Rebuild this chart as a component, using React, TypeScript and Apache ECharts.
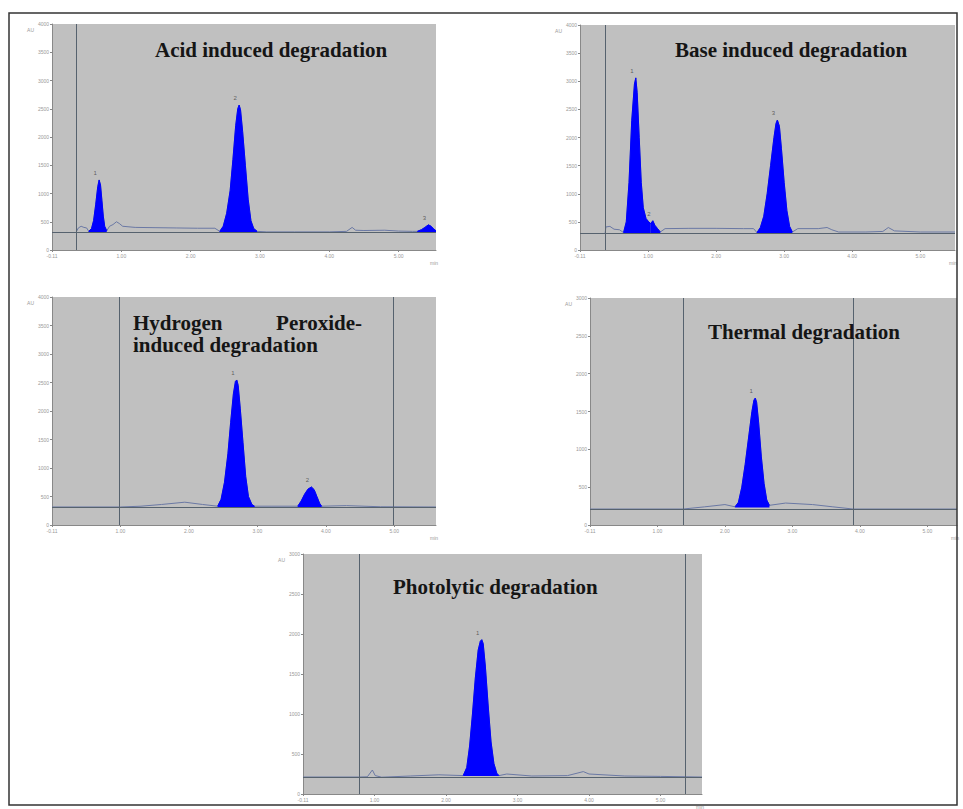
import React, { useEffect, useRef } from "react";
import * as echarts from "echarts";

// ---------- Data (time in min, signal in AU units) ----------
const acidTrace: number[][] = [
  [0.35, 320], [0.38, 390], [0.42, 420], [0.46, 400], [0.50, 390], [0.83, 420], [0.88, 450],
  [0.93, 500], [0.97, 470], [1.02, 420], [1.2, 400], [1.5, 395], [1.8, 390], [2.1, 385],
  [2.35, 385], [3.1, 320], [3.5, 320], [4.0, 320], [4.25, 330], [4.33, 400], [4.38, 350],
  [4.5, 345], [4.8, 350], [5.0, 335], [5.2, 330],
];
const acidPeak1: number[][] = [
  [0.53, 330], [0.57, 380], [0.60, 520], [0.63, 800], [0.66, 1120], [0.68, 1240], [0.70, 1150],
  [0.72, 880], [0.74, 600], [0.76, 420], [0.79, 340],
];
const acidPeak2: number[][] = [
  [2.42, 330], [2.47, 420], [2.52, 650], [2.57, 1050], [2.61, 1600], [2.65, 2200], [2.68, 2500],
  [2.70, 2566], [2.72, 2480], [2.75, 2100], [2.79, 1500], [2.83, 900], [2.87, 520], [2.91, 380],
  [2.96, 330],
];
const acidPeak3: number[][] = [
  [5.27, 330], [5.33, 360], [5.38, 400], [5.43, 445], [5.47, 420], [5.50, 380], [5.54, 340],
];

const baseTrace: number[][] = [
  [0.37, 300], [0.38, 410], [0.44, 420], [0.50, 370], [0.58, 360], [1.25, 380], [1.6, 385],
  [2.0, 385], [2.4, 380], [2.55, 380], [3.2, 380], [3.5, 380], [3.63, 400], [3.70, 360],
  [3.80, 320], [4.2, 320], [4.45, 330], [4.53, 400], [4.62, 340], [5.0, 320], [5.51, 320],
];
const basePeak1: number[][] = [
  [0.64, 310], [0.68, 500], [0.72, 1200], [0.76, 2300], [0.80, 2950], [0.82, 3060], [0.84, 2800],
  [0.87, 2000], [0.90, 1200], [0.93, 750], [0.97, 560], [1.01, 500], [1.04, 470],
];
const basePeak2: number[][] = [
  [1.04, 470], [1.07, 520], [1.10, 440], [1.14, 380], [1.18, 320],
];
const basePeak3: number[][] = [
  [2.60, 310], [2.65, 400], [2.70, 600], [2.75, 1000], [2.80, 1500], [2.85, 2000], [2.88, 2250],
  [2.90, 2311], [2.93, 2200], [2.96, 1800], [3.00, 1200], [3.04, 700], [3.08, 420], [3.12, 320],
];

const hydroTrace: number[][] = [
  [0, 316], [1.0, 316], [1.3, 330], [1.6, 360], [1.94, 400], [2.2, 360], [3.2, 330],
  [4.3, 340], [4.8, 320], [5.61, 316],
];
const hydroPeak1: number[][] = [
  [2.42, 330], [2.47, 450], [2.52, 750], [2.57, 1250], [2.61, 1800], [2.65, 2300], [2.68, 2520],
  [2.70, 2544], [2.72, 2450], [2.75, 2050], [2.79, 1450], [2.83, 850], [2.87, 500], [2.92, 360],
  [2.96, 330],
];
const hydroPeak2: number[][] = [
  [3.59, 330], [3.64, 420], [3.69, 540], [3.74, 630], [3.79, 667], [3.83, 620], [3.87, 500],
  [3.91, 380], [3.94, 330],
];

const thermTrace: number[][] = [
  [0, 211], [1.38, 211], [1.7, 240], [2.0, 270], [2.9, 290], [3.3, 270], [3.6, 240],
  [3.9, 211], [5.44, 211],
];
const thermPeak1: number[][] = [
  [2.15, 240], [2.20, 300], [2.25, 500], [2.30, 800], [2.35, 1150], [2.40, 1500], [2.43, 1650],
  [2.45, 1678], [2.47, 1620], [2.50, 1350], [2.54, 900], [2.58, 550], [2.62, 330], [2.66, 260],
];

const photoTrace: number[][] = [
  [0, 212], [0.78, 212], [0.90, 215], [0.97, 300], [1.01, 230], [1.1, 210], [1.5, 225],
  [1.9, 240], [2.85, 250], [3.2, 225], [3.7, 230], [3.92, 280], [4.0, 250], [4.5, 225],
  [5.0, 220], [5.58, 212],
];
const photoPeak1: number[][] = [
  [2.24, 230], [2.29, 330], [2.33, 600], [2.37, 1000], [2.41, 1450], [2.45, 1800], [2.48, 1910],
  [2.50, 1929], [2.52, 1880], [2.55, 1600], [2.59, 1100], [2.63, 650], [2.67, 380], [2.71, 260],
  [2.74, 230],
];

const titles = [
  "Acid induced degradation",
  "Base induced degradation",
  "Hydrogen",
  "Peroxide-",
  "induced degradation",
  "Thermal degradation",
  "Photolytic degradation",
];

const yMaxes = [4000, 4000, 4000, 3000, 3000];
const yIntervals = [500, 500, 500, 500, 500];
const xMaxes = [5.54, 5.51, 5.61, 5.44, 5.58];
const baselines = [320, 302, 316, 211, 212];
const fillBases = [320, 302, 316, 232, 225];
const verticalLines = [[0.35], [0.37], [0.98, 4.99], [1.38, 3.9], [0.78, 5.34]];
const peakNumbers = [["1", "2", "3"], ["1", "2", "3"], ["1", "2"], ["1"], ["1"]];

// ---------- Layout ----------
const grids = [
  { left: 52, top: 24, width: 384, height: 226 },
  { left: 580, top: 25, width: 375, height: 225 },
  { left: 52, top: 297, width: 384, height: 228 },
  { left: 590, top: 298, width: 367, height: 227 },
  { left: 303, top: 554, width: 399, height: 241 },
];

const panels = [
  { trace: acidTrace, peaks: [acidPeak1, acidPeak2, acidPeak3] },
  { trace: baseTrace, peaks: [basePeak1, basePeak2, basePeak3] },
  { trace: hydroTrace, peaks: [hydroPeak1, hydroPeak2] },
  { trace: thermTrace, peaks: [thermPeak1] },
  { trace: photoTrace, peaks: [photoPeak1] },
];

function buildOption() {
  const series: any[] = [];
  const xAxis: any[] = [];
  const yAxis: any[] = [];
  panels.forEach((p, i) => {
    xAxis.push({
      type: "value",
      gridIndex: i,
      min: 0,
      max: xMaxes[i],
      interval: 1,
      axisLine: { show: true, lineStyle: { color: "#888", width: 1 } },
      axisTick: { show: true, length: 2, lineStyle: { color: "#888" } },
      axisLabel: {
        fontSize: 5,
        color: "#999",
        margin: 3,
        showMaxLabel: false,
        formatter: (v: number) => (v === 0 ? "-0.11" : v.toFixed(2)),
      },
      splitLine: { show: false },
      name: "min",
      nameLocation: "end",
      nameGap: -6,
      nameTextStyle: { fontSize: 5, color: "#999", verticalAlign: "top", padding: [10, 0, 0, 0] },
    });
    yAxis.push({
      type: "value",
      gridIndex: i,
      min: 0,
      max: yMaxes[i],
      interval: yIntervals[i],
      axisLine: { show: true, lineStyle: { color: "#888", width: 1 } },
      axisTick: { show: true, length: 2, lineStyle: { color: "#888" } },
      axisLabel: { fontSize: 5, color: "#999", margin: 3, formatter: (v: number) => String(v) },
      splitLine: { show: false },
      name: "AU",
      nameLocation: "end",
      nameGap: -8,
      nameTextStyle: { fontSize: 5, color: "#999", align: "right", padding: [0, 18, 0, 0] },
    });
    const merged = [...p.trace, ...p.peaks.flat()].sort((a, b) => a[0] - b[0]);
    series.push({
      type: "line",
      xAxisIndex: i,
      yAxisIndex: i,
      data: merged,
      showSymbol: false,
      lineStyle: { color: "#6a78a4", width: 1 },
      z: 3,
      markLine: {
        silent: true,
        symbol: "none",
        label: { show: false },
        lineStyle: { color: "#56626e", type: "solid", width: 1 },
        data: [...verticalLines[i].map((x) => ({ xAxis: x })), { yAxis: baselines[i] }],
      },
    });
    p.peaks.forEach((pk) => {
      series.push({
        type: "line",
        xAxisIndex: i,
        yAxisIndex: i,
        data: pk,
        showSymbol: false,
        lineStyle: { color: "#0000ff", width: 1 },
        areaStyle: { color: "#0000ff", opacity: 1, origin: fillBases[i] },
        z: 4,
      });
    });
    const apexes = p.peaks.map((pk, k) => {
      const top = pk.reduce((m, q) => (q[1] > m[1] ? q : m), pk[0]);
      return { value: top, label: { formatter: peakNumbers[i][k] } };
    });
    series.push({
      type: "scatter",
      xAxisIndex: i,
      yAxisIndex: i,
      data: apexes,
      symbolSize: 0,
      label: { show: true, position: "top", distance: 4, fontSize: 6, color: "#444", offset: [-4, 0] },
      z: 5,
    });
  });

  const tStyle = {
    fontFamily: "Liberation Serif",
    fontWeight: "bold" as const,
    fontSize: 21,
    color: "#151515",
  };
  const title = [
    { text: titles[0], left: 155, top: 39, textStyle: tStyle, padding: 0 },
    { text: titles[1], left: 675, top: 39, textStyle: tStyle, padding: 0 },
    { text: titles[2], left: 133, top: 312, textStyle: tStyle, padding: 0 },
    { text: titles[3], right: 601, top: 312, textStyle: tStyle, padding: 0 },
    { text: titles[4], left: 133, top: 334, textStyle: tStyle, padding: 0 },
    { text: titles[5], left: 708, top: 321, textStyle: tStyle, padding: 0 },
    { text: titles[6], left: 393, top: 576, textStyle: tStyle, padding: 0 },
  ];

  return {
    animation: false,
    backgroundColor: "#ffffff",
    title,
    grid: grids.map((g) => ({ ...g, show: true, backgroundColor: "#c0c0c0", borderWidth: 0 })),
    xAxis,
    yAxis,
    series,
    graphic: [
      {
        type: "rect",
        shape: { x: 9, y: 13, width: 948, height: 792 },
        style: { fill: "none", stroke: "#333", lineWidth: 1.5 },
        z: 10,
        silent: true,
      },
    ],
  };
}

export default function App() {
  const ref = useRef<HTMLDivElement>(null);
  useEffect(() => {
    if (!ref.current) return;
    const chart = echarts.init(ref.current, undefined, { renderer: "svg" });
    chart.setOption(buildOption() as any);
    return () => chart.dispose();
  }, []);
  return (
    <div
      ref={ref}
      style={{ position: "absolute", left: 0, top: 0, width: 963, height: 809, background: "#fff" }}
    />
  );
}
